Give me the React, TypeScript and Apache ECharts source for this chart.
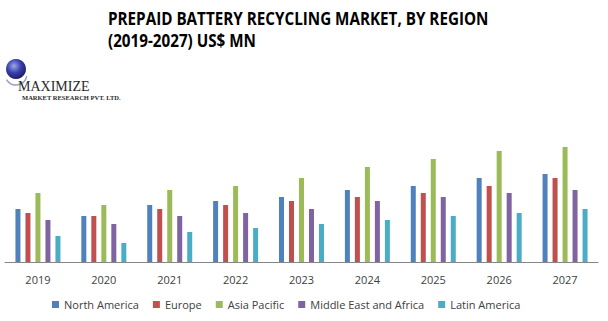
import React, { useEffect, useRef } from "react";
import * as echarts from "echarts";

const years = ["2019", "2020", "2021", "2022", "2023", "2024", "2025", "2026", "2027"];
const northAmerica = [53, 46, 57, 61, 65, 72, 76, 84, 88];
const europe = [49, 46, 53, 57, 61, 65, 69, 76, 84];
const asiaPacific = [69, 57, 72, 76, 84, 95, 103, 111, 115];
const middleEastAfrica = [42, 38, 46, 49, 53, 61, 65, 69, 72];
const latinAmerica = [26, 19, 30, 34, 38, 42, 46, 49, 53];

const seriesNames = ["North America", "Europe", "Asia Pacific", "Middle East and Africa", "Latin America"];
const seriesColors = ["#4F81BD", "#C0504D", "#9BBB59", "#8064A2", "#4BACC6"];
const seriesData = [northAmerica, europe, asiaPacific, middleEastAfrica, latinAmerica];

const titleLine1 = "PREPAID BATTERY RECYCLING MARKET, BY REGION";
const titleLine2 = "(2019-2027) US$ MN";

export default function App() {
  const ref = useRef<HTMLDivElement>(null);
  useEffect(() => {
    if (!ref.current) return;
    const chart = echarts.init(ref.current, null, { renderer: "svg" });
    chart.setOption({
      animation: false,
      backgroundColor: "#ffffff",
      textStyle: { fontFamily: "Open Sans" },
      grid: { left: 5, right: 10, top: 132, bottom: 59 },
      xAxis: {
        type: "category",
        data: years,
        axisLine: { lineStyle: { color: "#868686", width: 1 } },
        axisTick: { show: false },
        axisLabel: { color: "#404040", fontSize: 11, margin: 12, fontFamily: "Open Sans" },
      },
      yAxis: {
        type: "value",
        min: 0,
        max: 130,
        show: false,
        splitLine: { show: false },
      },
      legend: {
        bottom: 6,
        left: 47,
        itemWidth: 7,
        itemHeight: 7,
        itemGap: 14,
        icon: "rect",
        textStyle: { color: "#404040", fontSize: 11, fontFamily: "Open Sans" },
        data: seriesNames,
      },
      series: seriesNames.map((name, i) => ({
        name,
        type: "bar",
        data: seriesData[i],
        barWidth: 5,
        barGap: "100%",
        itemStyle: { color: seriesColors[i] },
      })),
      graphic: [
        {
          type: "text",
          x: 108,
          y: 10,
          scaleX: 0.895,
          style: {
            text: titleLine1,
            font: "bold 17px 'Open Sans'",
            fill: "#000000",
            verticalAlign: "top",
          },
        },
        {
          type: "text",
          x: 108,
          y: 32,
          scaleX: 0.895,
          style: {
            text: titleLine2,
            font: "bold 17px 'Open Sans'",
            fill: "#000000",
            verticalAlign: "top",
          },
        },
        {
          type: "circle",
          shape: { cx: 16, cy: 69, r: 10 },
          style: {
            fill: new echarts.graphic.RadialGradient(0.4, 0.35, 0.7, [
              { offset: 0, color: "#9aa8e8" },
              { offset: 0.5, color: "#3a3fae" },
              { offset: 1, color: "#1a1a5a" },
            ]),
          },
        },
        {
          type: "arc",
          shape: { cx: 16, cy: 74, r: 11, startAngle: 0.2, endAngle: 2.6 },
          style: { stroke: "#9aa0c8", lineWidth: 1.5, fill: "none" },
        },
        {
          type: "text",
          left: 18,
          top: 79,
          style: {
            text: "MAXIMIZE",
            font: "14px 'Liberation Serif'",
            fill: "#2a2a2a",
          },
        },
        {
          type: "text",
          left: 22,
          top: 94,
          style: {
            text: "MARKET RESEARCH PVT. LTD.",
            font: "bold 6.5px 'Liberation Serif'",
            fill: "#2a2a2a",
          },
        },
      ],
    });
    return () => chart.dispose();
  }, []);
  return <div ref={ref} style={{ position: "fixed", left: 0, top: 0, width: 608, height: 321 }} />;
}
